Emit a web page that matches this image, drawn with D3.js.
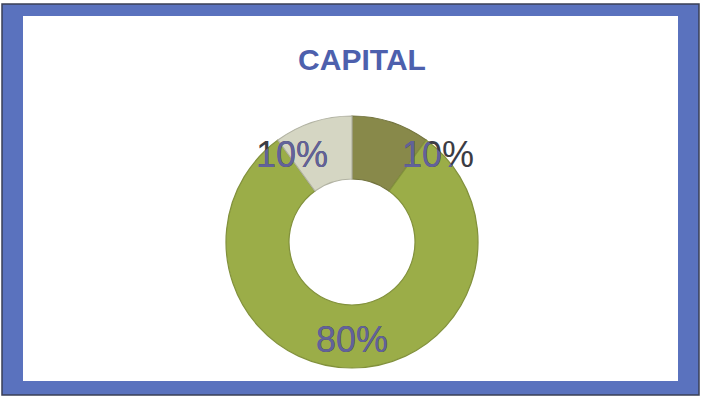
<!DOCTYPE html>
<html>
<head>
<meta charset="utf-8">
<script src="https://cdn.jsdelivr.net/npm/d3@7"></script>
<style>
  html, body { margin: 0; padding: 0; background: #fff; }
  svg { display: block; }
</style>
</head>
<body>
<svg id="chart" width="703" height="403"></svg>
<script>
// Capital breakdown, drawn clockwise from 12 o'clock
const categories = ["Part A", "Part B", "Part C"];
const values = [10, 80, 10];
const sliceColors = ["#88894a", "#9bad48", "#d5d6c3"];
const title = "CAPITAL";

const W = 703, H = 403;
const svg = d3.select("#chart");

// Framed panel: dark hairline, wide blue band, white plot area
svg.append("rect").attr("x", 2).attr("y", 4).attr("width", 697).attr("height", 391)
  .attr("fill", "#5a72be").attr("stroke", "#3a3f55").attr("stroke-width", 1.5);
svg.append("rect").attr("x", 23).attr("y", 16).attr("width", 655).attr("height", 365)
  .attr("fill", "#ffffff");

svg.append("text")
  .attr("x", 362).attr("y", 70)
  .attr("text-anchor", "middle")
  .attr("font-family", "Liberation Sans, Arial, sans-serif")
  .attr("font-weight", "bold")
  .attr("font-size", 30)
  .attr("fill", "#4d60ad")
  .text(title);

const cx = 352, cy = 242;
const outerR = 126, innerR = 63;

const pie = d3.pie().sort(null).value(d => d)(values);
const arc = d3.arc().innerRadius(innerR).outerRadius(outerR);

const g = svg.append("g").attr("transform", `translate(${cx},${cy})`);

g.selectAll("path.slice")
  .data(pie)
  .join("path")
  .attr("class", "slice")
  .attr("d", arc)
  .attr("fill", (d, i) => sliceColors[i])
  .attr("stroke", (d, i) => d3.color(sliceColors[i]).darker(0.5))
  .attr("stroke-width", 1.2);

// Clip region equal to the ring, used to tint label parts lying over it
const defs = svg.append("defs");
defs.append("clipPath").attr("id", "ringClip")
  .selectAll("path").data(pie).join("path")
  .attr("d", arc);

const total = d3.sum(values);
const labelArc = d3.arc().innerRadius(97).outerRadius(97);
function labelPos(d) {
  const [x, y] = labelArc.centroid(d);
  const share = d.value / total;
  if (share < 0.2) {
    // narrow slices near the top seam: labels pushed sideways and down
    return [x + (x > 0 ? 56 : -30), y + 17];
  }
  return [x, y + 13];
}

function drawLabels(layer, color) {
  layer.selectAll("text")
    .data(pie)
    .join("text")
    .attr("x", d => labelPos(d)[0])
    .attr("y", d => labelPos(d)[1])
    .attr("text-anchor", "middle")
    .attr("font-family", "Liberation Sans, Arial, sans-serif")
    .attr("font-size", 36)
    .attr("fill", color)
    .text(d => Math.round(d.value / total * 100) + "%");
}

drawLabels(g.append("g"), "#3c3c44");
drawLabels(g.append("g").attr("clip-path", "url(#ringClip)"), "#62629a");
</script>
</body>
</html>
